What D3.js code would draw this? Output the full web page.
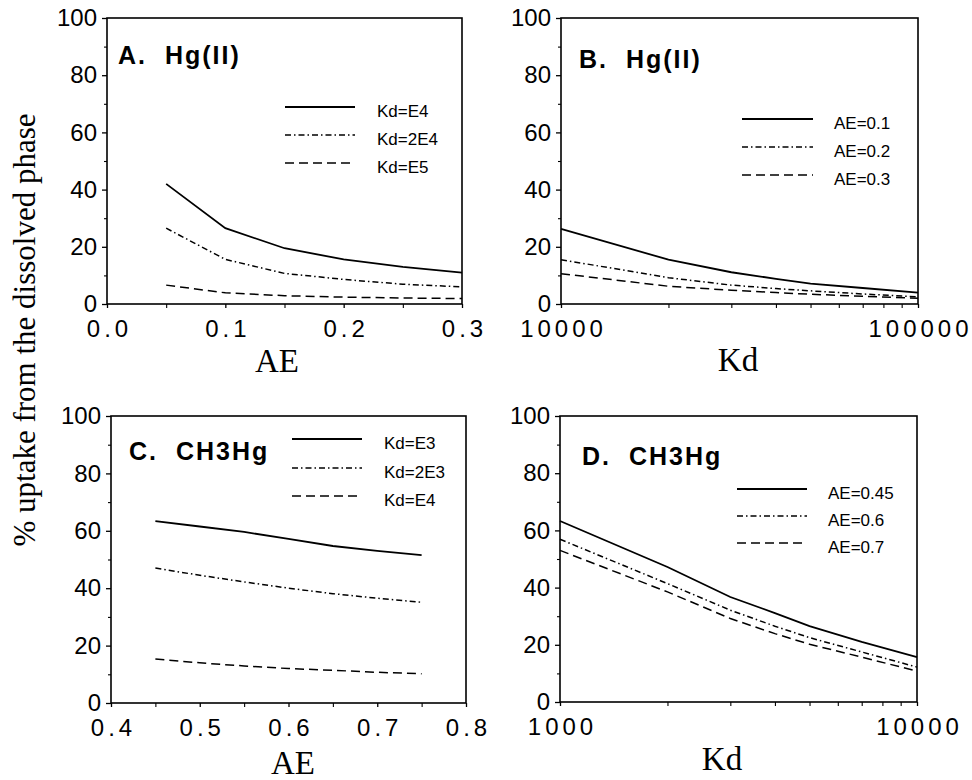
<!DOCTYPE html>
<html>
<head>
<meta charset="utf-8">
<script src="https://cdn.jsdelivr.net/npm/d3@7"></script>
<style>
  html, body { margin: 0; padding: 0; background: #fff; }
  svg { display: block; }
  text { fill: #000; }
</style>
</head>
<body>
<svg id="chart" width="972" height="780"></svg>
<script>
// ---------- data ----------
const aeA = [0.05, 0.1, 0.15, 0.2, 0.25, 0.3];
const A_kdE4  = [42, 26.5, 19.5, 15.6, 13, 11];
const A_kd2E4 = [26.5, 15.6, 10.7, 8.6, 6.9, 6];
const A_kdE5  = [6.6, 3.9, 2.9, 2.4, 2.1, 1.9];
const A_labels = ["Kd=E4", "Kd=2E4", "Kd=E5"];

const kdB = [10000, 20000, 30000, 40000, 50000, 70000, 100000];
const B_ae01 = [26.3, 15.5, 11.1, 8.8, 7.1, 5.6, 4.0];
const B_ae02 = [15.5, 9.2, 6.6, 5.4, 4.6, 3.5, 2.5];
const B_ae03 = [10.6, 6.2, 4.8, 4.0, 3.4, 2.7, 2.0];
const B_labels = ["AE=0.1", "AE=0.2", "AE=0.3"];

const aeC = [0.45, 0.5, 0.55, 0.6, 0.65, 0.7, 0.75];
const C_kdE3  = [63.4, 61.5, 59.6, 57.2, 54.7, 53, 51.5];
const C_kd2E3 = [47.0, 44.5, 42.2, 40, 38.1, 36.5, 35.1];
const C_kdE4  = [15.3, 14, 12.9, 12, 11.4, 10.7, 10.2];
const C_labels = ["Kd=E3", "Kd=2E3", "Kd=E4"];

const kdD = [1000, 2000, 3000, 4000, 5000, 7000, 10000];
const D_ae045 = [63.3, 47.2, 36.7, 31.1, 26.5, 21, 15.7];
const D_ae06  = [56.9, 41.4, 32.1, 26.5, 22.5, 17.5, 12.2];
const D_ae07  = [53, 38.5, 29.2, 23.9, 20.2, 15.7, 10.8];
const D_labels = ["AE=0.45", "AE=0.6", "AE=0.7"];

const yMajor = [0, 20, 40, 60, 80, 100];
const yMinor = [10, 30, 50, 70, 90];
const yLabel = "% uptake from the dissolved phase";

// ---------- styles ----------
const SANS = "'Liberation Sans', Arial, Helvetica, sans-serif";
const SERIF = "'Liberation Serif', 'Times New Roman', Times, serif";
const dashes = [null, "6,3,1.5,3", "9,5"];

const svg = d3.select("#chart");

const panels = [
  { title: "A.\u00a0\u00a0Hg(II)", titleX: 118, titleY: 64,
    x0: 107, x1: 462, yT: 18, yB: 304, type: "lin", domain: [0, 0.3],
    major: [0, 0.1, 0.2, 0.3], minor: [0.05, 0.15, 0.25], fmt: d3.format(".1f"),
    xs: aeA, series: [A_kdE4, A_kd2E4, A_kdE5], labels: A_labels,
    leg: { x0: 285, x1: 355, ys: [107, 135, 163], tx: 377 },
    axisTitle: "AE", atX: 277, atY: 372 },
  { title: "B.\u00a0\u00a0Hg(II)", titleX: 579, titleY: 68,
    x0: 561, x1: 918, yT: 18, yB: 304, type: "log", domain: [10000, 100000],
    major: [10000, 100000], minor: [20000, 30000, 40000, 50000, 60000, 70000, 80000, 90000],
    fmt: d3.format("d"),
    xs: kdB, series: [B_ae01, B_ae02, B_ae03], labels: B_labels,
    leg: { x0: 742, x1: 813, ys: [119, 147, 175], tx: 834 },
    axisTitle: "Kd", atX: 738, atY: 371 },
  { title: "C.\u00a0\u00a0CH3Hg", titleX: 129, titleY: 460,
    x0: 111, x1: 466, yT: 416, yB: 703, type: "lin", domain: [0.4, 0.8],
    major: [0.4, 0.5, 0.6, 0.7, 0.8], minor: [0.45, 0.55, 0.65, 0.75], fmt: d3.format(".1f"),
    xs: aeC, series: [C_kdE3, C_kd2E3, C_kdE4], labels: C_labels,
    leg: { x0: 292, x1: 362, ys: [439, 468, 496], tx: 384 },
    axisTitle: "AE", atX: 293, atY: 774 },
  { title: "D.\u00a0\u00a0CH3Hg", titleX: 582, titleY: 465,
    x0: 560, x1: 917, yT: 416, yB: 702, type: "log", domain: [1000, 10000],
    major: [1000, 10000], minor: [2000, 3000, 4000, 5000, 6000, 7000, 8000, 9000],
    fmt: d3.format("d"),
    xs: kdD, series: [D_ae045, D_ae06, D_ae07], labels: D_labels,
    leg: { x0: 737, x1: 807, ys: [489, 516, 543], tx: 828 },
    axisTitle: "Kd", atX: 722, atY: 770 }
];

panels.forEach(p => {
  const x = (p.type === "log" ? d3.scaleLog() : d3.scaleLinear())
    .domain(p.domain).range([p.x0, p.x1]);
  const y = d3.scaleLinear().domain([0, 100]).range([p.yB, p.yT]);
  const g = svg.append("g");

  // y axis major
  const ya = g.append("g").attr("transform", `translate(${p.x0},0)`)
    .call(d3.axisLeft(y).tickValues(yMajor).tickSize(5).tickPadding(5));
  ya.select(".domain").remove();
  ya.selectAll("line").attr("stroke-width", 1.3);
  ya.selectAll("text").attr("font-family", SANS).attr("font-size", 24).attr("fill", "#000");
  // y axis minor
  const ym = g.append("g").attr("transform", `translate(${p.x0},0)`)
    .call(d3.axisLeft(y).tickValues(yMinor).tickSize(3).tickFormat(""));
  ym.select(".domain").remove();
  ym.selectAll("line").attr("stroke-width", 1.1);

  // x axis major
  const xa = g.append("g").attr("transform", `translate(0,${p.yB})`)
    .call(d3.axisBottom(x).tickValues(p.major).tickSize(4).tickPadding(12).tickFormat(p.fmt));
  xa.select(".domain").remove();
  xa.selectAll("line").attr("stroke-width", 1.3);
  xa.selectAll("text").attr("font-family", SANS).attr("font-size", 24)
    .attr("letter-spacing", "4px").attr("dx", 2).attr("fill", "#000");
  // x axis minor
  const xm = g.append("g").attr("transform", `translate(0,${p.yB})`)
    .call(d3.axisBottom(x).tickValues(p.minor).tickSize(4).tickFormat(""));
  xm.select(".domain").remove();
  xm.selectAll("line").attr("stroke-width", 1.1);

  // frame
  g.append("rect").attr("x", p.x0).attr("y", p.yT)
    .attr("width", p.x1 - p.x0).attr("height", p.yB - p.yT)
    .attr("fill", "none").attr("stroke", "#000").attr("stroke-width", 1.6);

  // lines
  const line = d3.line().x((d, i) => x(p.xs[i])).y(d => y(d));
  p.series.forEach((s, k) => {
    g.append("path").datum(s).attr("d", line)
      .attr("fill", "none").attr("stroke", "#000")
      .attr("stroke-width", k === 0 ? 1.8 : 1.5)
      .attr("stroke-dasharray", dashes[k]);
  });

  // legend
  p.labels.forEach((lab, k) => {
    g.append("line").attr("x1", p.leg.x0).attr("x2", p.leg.x1)
      .attr("y1", p.leg.ys[k]).attr("y2", p.leg.ys[k])
      .attr("stroke", "#000").attr("stroke-width", k === 0 ? 1.8 : 1.5)
      .attr("stroke-dasharray", dashes[k]);
    g.append("text").attr("x", p.leg.tx).attr("y", p.leg.ys[k] + 10)
      .attr("font-family", SANS).attr("font-size", 17).text(lab);
  });

  // title
  g.append("text").attr("x", p.titleX).attr("y", p.titleY)
    .attr("font-family", SANS).attr("font-weight", "bold").attr("font-size", 25)
    .attr("letter-spacing", "2px").text(p.title);

  // axis title
  g.append("text").attr("x", p.atX).attr("y", p.atY).attr("text-anchor", "middle")
    .attr("font-family", SERIF).attr("font-size", 33).text(p.axisTitle);
});

// shared y label
svg.append("text").attr("transform", "translate(35,330) rotate(-90)")
  .attr("text-anchor", "middle").attr("font-family", SERIF).attr("font-size", 31)
  .text(yLabel);
</script>
</body>
</html>
